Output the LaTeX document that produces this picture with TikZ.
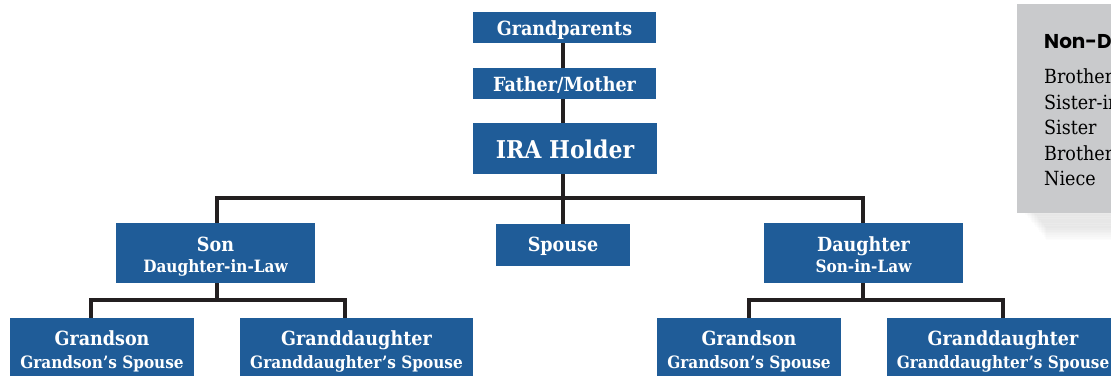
\documentclass[tikz,border=0pt]{standalone}
\usepackage{fontspec}
\setmainfont{DejaVu Serif Condensed}
\newfontfamily\headfont{Poppins}
\usetikzlibrary{calc,backgrounds}
\definecolor{boxblue}{HTML}{1F5C98}
\definecolor{linegray}{HTML}{231F20}
\definecolor{panelgray}{HTML}{C9CACC}
\tikzset{
  person/.style={fill=boxblue, inner sep=0pt},
  mainname/.style={anchor=base, inner sep=0pt, text=white, font=\bfseries\fontsize{19.5}{22}\selectfont},
  subname/.style={anchor=base, inner sep=0pt, text=white, font=\bfseries\fontsize{17}{20}\selectfont},
  conn/.style={draw=linegray, line width=3.4pt},
  listtext/.style={anchor=base west, inner sep=0pt, font=\fontsize{19.5}{22}\selectfont}
}
\begin{document}
\begin{tikzpicture}[x=1pt,y=-1pt]
\useasboundingbox (0,0) rectangle (1111,375);
\begin{scope}
\clip (0,0) rectangle (1111,375);
% side panel with soft shadow
\foreach \o in {1,...,16}{
  \fill[black,opacity=0.012] (1024+\o*1.4,200+\o*1.7) rectangle (1130,213+\o*1.7);
}
\fill[panelgray] (1017,4) rectangle (1130,213);
\node[anchor=base west, inner sep=0pt, font=\headfont\bfseries\fontsize{20}{24}\selectfont] (head) at (1044,48.3) {Non-Disqualified Persons};
\node[listtext] (l1) at (1044,83.5) {Brother-in-Law};
\node[listtext] (l2) at (1044,109) {Sister-in-Law};
\node[listtext] (l3) at (1044,134.5) {Sister};
\node[listtext] (l4) at (1044,160) {Brother-in-Law};
\node[listtext] (l5) at (1044,185.5) {Niece};

% boxes
\node[person, minimum width=183pt, minimum height=31pt] (gp) at (564.5,27.5) {};
\node[person, minimum width=183pt, minimum height=31pt] (fm) at (564.5,83.5) {};
\node[person, minimum width=184pt, minimum height=51pt] (ira) at (565,148.5) {};
\node[person, minimum width=199pt, minimum height=60pt] (son) at (215.5,253) {};
\node[person, minimum width=134pt, minimum height=42pt] (spouse) at (563,245) {};
\node[person, minimum width=199pt, minimum height=60pt] (dau) at (863.5,253) {};
\node[person, minimum width=184pt, minimum height=72pt] (gs1) at (102,354) {};
\node[person, minimum width=233pt, minimum height=72pt] (gd1) at (356.5,354) {};
\node[person, minimum width=184pt, minimum height=72pt] (gs2) at (749,354) {};
\node[person, minimum width=232pt, minimum height=72pt] (gd2) at (1003,354) {};

% texts
\node[mainname] (gpt) at (564.5,35.8) {Grandparents};
\node[mainname] (fmt) at (564.5,91.7) {Father/Mother};
\node[mainname, font=\bfseries\fontsize{24.5}{28}\selectfont] (irat) at (565,158.5) {IRA Holder};
\node[mainname] (sont1) at (215.5,251.7) {Son};
\node[subname] (sont2) at (215.5,272.7) {Daughter-in-Law};
\node[mainname] (spt) at (563,251.5) {Spouse};
\node[mainname] (daut1) at (863.5,251.7) {Daughter};
\node[subname] (daut2) at (863.5,272.7) {Son-in-Law};
\node[mainname] (gs1t1) at (102,345) {Grandson};
\node[subname] (gs1t2) at (102,368) {Grandson’s Spouse};
\node[mainname] (gd1t1) at (356.5,345) {Granddaughter};
\node[subname] (gd1t2) at (356.5,368) {Granddaughter’s Spouse};
\node[mainname] (gs2t1) at (749,345) {Grandson};
\node[subname] (gs2t2) at (749,368) {Grandson’s Spouse};
\node[mainname] (gd2t1) at (1003,345) {Granddaughter};
\node[subname] (gd2t2) at (1003,368) {Granddaughter’s Spouse};

% connectors
\coordinate (bus) at (563,198);
\coordinate (busl) at (217,198);
\coordinate (busr) at (863,198);
\coordinate (lbus) at (217,300);
\coordinate (rbus) at (863,300);
\coordinate (gs1top) at (91,318);
\coordinate (gd1top) at (345,318);
\coordinate (gs2top) at (749,318);
\coordinate (gd2top) at (1003,318);
\begin{scope}[on background layer]
\path[conn] (gp.south -| bus) -- (spouse.north -| bus);
\path[conn] (son.north -| busl) -- (busl) -- (busr) -- (dau.north -| busr);
\path[conn] (son.south -| lbus) -- (lbus);
\path[conn] (gs1top) |- (lbus) -| (gd1top);
\path[conn] (dau.south -| rbus) -- (rbus);
\path[conn] (gs2top) |- (rbus) -| (gd2top);
\end{scope}
\end{scope}
\end{tikzpicture}
\end{document}
